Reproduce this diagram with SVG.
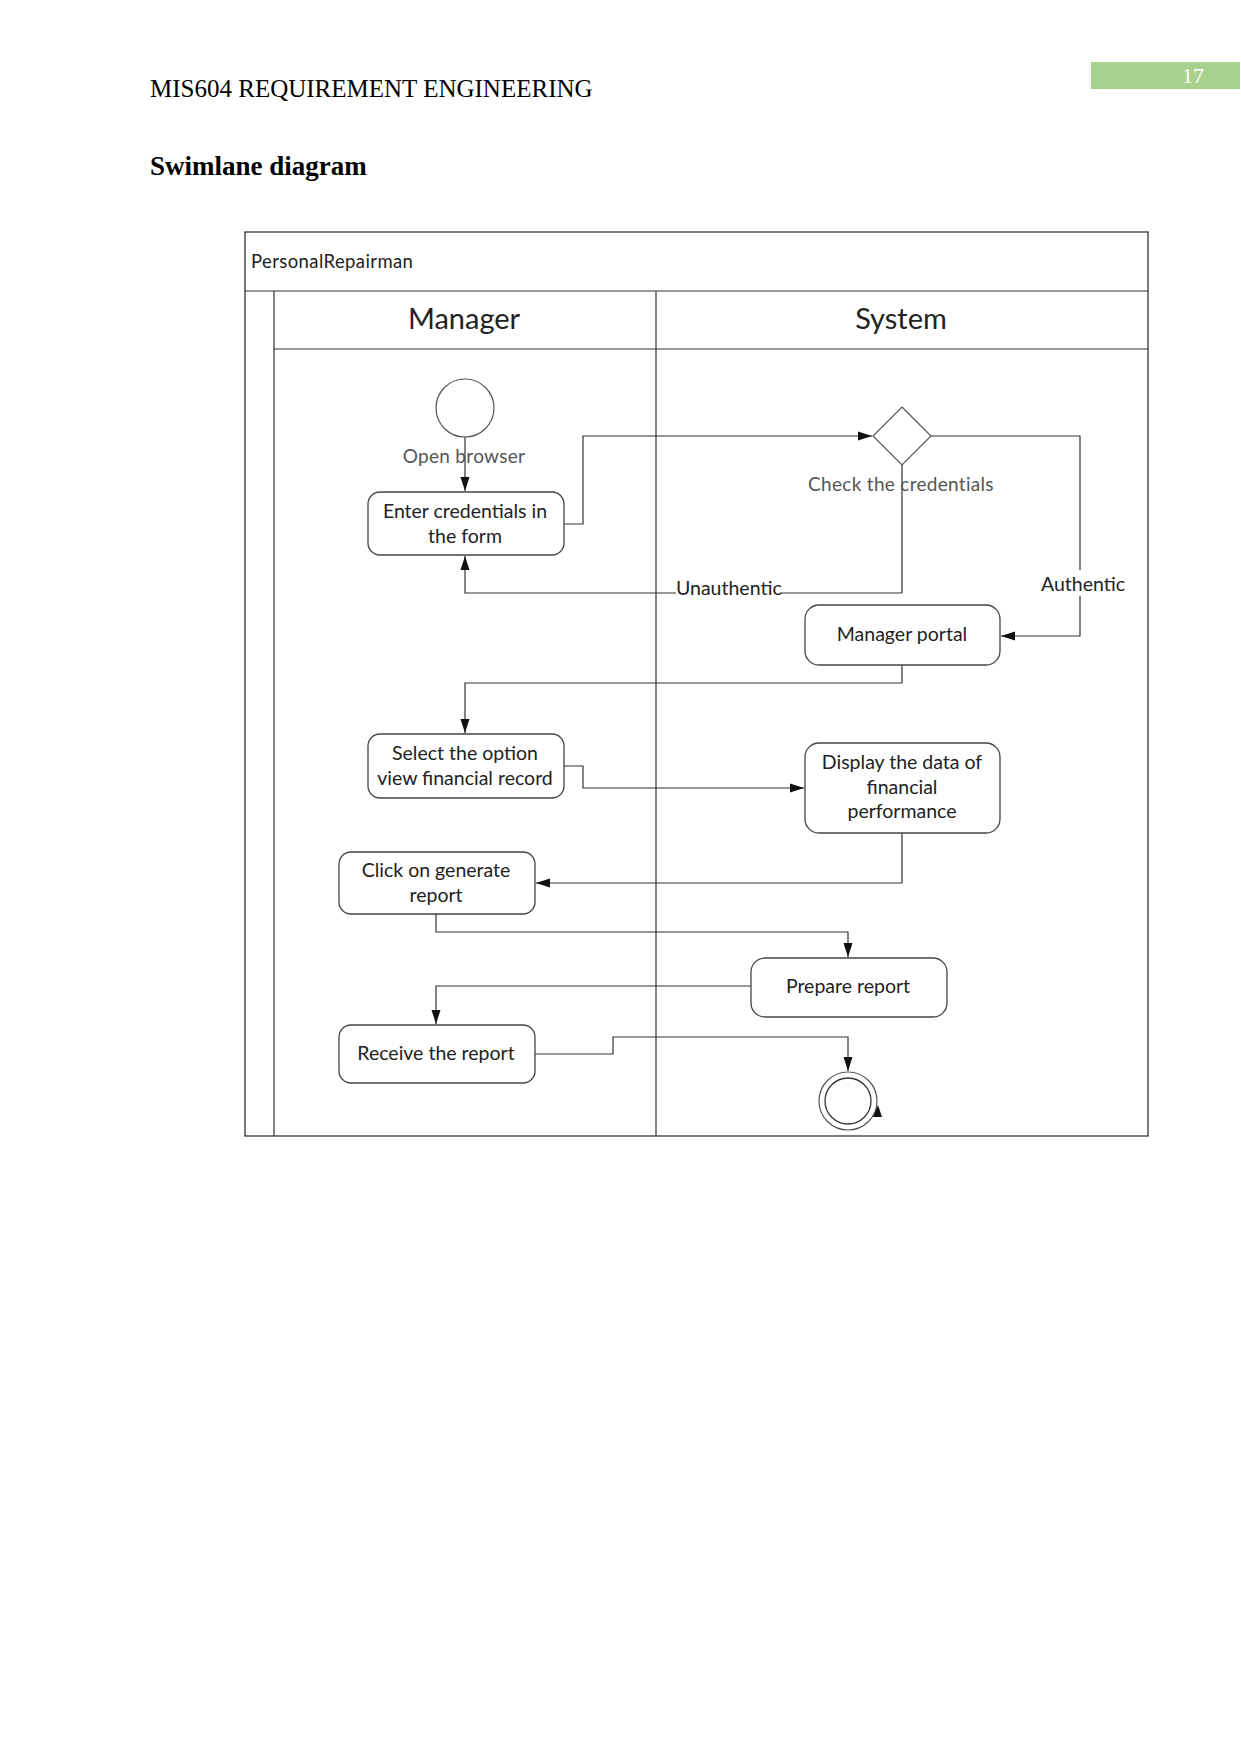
<svg xmlns="http://www.w3.org/2000/svg" width="1241" height="1754" viewBox="0 0 1241 1754">
<style>
.pg{font-family:"Liberation Serif",serif;fill:#000}
.t{font-family:Lato,"Open Sans",sans-serif;font-size:19.5px;fill:#222;text-anchor:middle}
.lbl{font-family:Lato,"Open Sans",sans-serif;font-size:19px;fill:#555;text-anchor:middle;letter-spacing:0.3px}
.box{fill:#fff;stroke:#444;stroke-width:1.3}
.ln{fill:none;stroke:#333;stroke-width:1.2}
.c{fill:none;stroke:#333;stroke-width:1.2}
</style>
<defs>
<marker id="ah" viewBox="0 0 14 10" refX="14" refY="5" markerWidth="14" markerHeight="10" markerUnits="userSpaceOnUse" orient="auto">
<path d="M0,0.5 L14,5 L0,9.5 z" fill="#111"/>
</marker>
</defs>
<rect width="1241" height="1754" fill="#fff"/>
<rect x="1091" y="62" width="149" height="27" fill="#a9d18e"/>
<text class="pg" x="1193" y="83" font-size="22" text-anchor="middle" style="fill:#fff">17</text>
<text class="pg" x="150" y="97" font-size="25">MIS604 REQUIREMENT ENGINEERING</text>
<text class="pg" x="150" y="175" font-size="27" font-weight="bold">Swimlane diagram</text>

<g id="pool">
<rect x="245" y="232" width="903" height="904" fill="none" stroke="#333" stroke-width="1.3"/>
<line x1="245" y1="291" x2="1148" y2="291" class="ln"/>
<line x1="274" y1="291" x2="274" y2="1136" class="ln"/>
<line x1="274" y1="349" x2="1148" y2="349" class="ln"/>
<line x1="656" y1="291" x2="656" y2="1136" class="ln"/>
<text x="251" y="268" font-family="Lato,'Open Sans',sans-serif" font-size="18.5" fill="#222" letter-spacing="0.4">PersonalRepairman</text>
<text x="464" y="329" font-family="Lato,'Open Sans',sans-serif" font-size="29" fill="#222" text-anchor="middle">Manager</text>
<text x="901" y="329" font-family="Lato,'Open Sans',sans-serif" font-size="29" fill="#222" text-anchor="middle">System</text>
</g>

<g id="connectors">
<path class="c" d="M465,437 L465,491" marker-end="url(#ah)"/>
<path class="c" d="M564,524 L583,524 L583,436 L872,436" marker-end="url(#ah)"/>
<path class="c" d="M902,465 L902,593 L465,593 L465,556" marker-end="url(#ah)"/>
<path class="c" d="M931,436 L1080,436 L1080,636 L1001,636" marker-end="url(#ah)"/>
<path class="c" d="M902,665 L902,683 L465,683 L465,733" marker-end="url(#ah)"/>
<path class="c" d="M564,766 L583,766 L583,788 L804,788" marker-end="url(#ah)"/>
<path class="c" d="M902,833 L902,883 L536,883" marker-end="url(#ah)"/>
<path class="c" d="M436,914 L436,932 L848,932 L848,957" marker-end="url(#ah)"/>
<path class="c" d="M751,986 L436,986 L436,1024" marker-end="url(#ah)"/>
<path class="c" d="M535,1054 L613,1054 L613,1037 L848,1037 L848,1071" marker-end="url(#ah)"/>
<rect x="676" y="576" width="104" height="24" fill="#fff"/>
<text x="676" y="595" font-family="Lato,'Open Sans',sans-serif" font-size="19.5" fill="#222">Unauthentic</text>
<rect x="1040" y="570" width="86" height="26" fill="#fff"/>
<text x="1083" y="591" class="t">Authentic</text>
</g>

<g id="start">
<circle cx="465" cy="408" r="29" fill="#fff" stroke="#555" stroke-width="1.2"/>
<text x="464" y="463" class="lbl">Open browser</text>
</g>

<g id="enter">
<rect class="box" x="368" y="492" width="196" height="63" rx="12"/>
<text class="t" x="465" y="518">Enter credentials in</text>
<text class="t" x="465" y="543">the form</text>
</g>

<g id="check">
<path d="M902,407 L931,436 L902,465 L873,436 z" fill="#fff" stroke="#555" stroke-width="1.2"/>
<text x="901" y="491" class="lbl">Check the credentials</text>
</g>

<g id="portal">
<rect class="box" x="805" y="605" width="195" height="60" rx="14"/>
<text class="t" x="902" y="641">Manager portal</text>
</g>

<g id="select">
<rect class="box" x="368" y="734" width="196" height="64" rx="12"/>
<text class="t" x="465" y="760">Select the option</text>
<text class="t" x="465" y="785">view financial record</text>
</g>

<g id="display">
<rect class="box" x="805" y="743" width="195" height="90" rx="14"/>
<text class="t" x="902" y="769">Display the data of</text>
<text class="t" x="902" y="794">financial</text>
<text class="t" x="902" y="818">performance</text>
</g>

<g id="click">
<rect class="box" x="339" y="852" width="196" height="62" rx="12"/>
<text class="t" x="436" y="877">Click on generate</text>
<text class="t" x="436" y="902">report</text>
</g>

<g id="prepare">
<rect class="box" x="751" y="958" width="196" height="59" rx="14"/>
<text class="t" x="848" y="993">Prepare report</text>
</g>

<g id="receive">
<rect class="box" x="339" y="1025" width="196" height="58" rx="12"/>
<text class="t" x="436" y="1060">Receive the report</text>
</g>

<g id="end">
<circle cx="848" cy="1101" r="29" fill="#fff" stroke="#555" stroke-width="1.2"/>
<circle cx="848" cy="1101" r="23" fill="#fff" stroke="#333" stroke-width="1.3"/>
<path d="M873,1117 L878,1105 L882,1117 z" fill="#111"/>
</g>
</svg>
